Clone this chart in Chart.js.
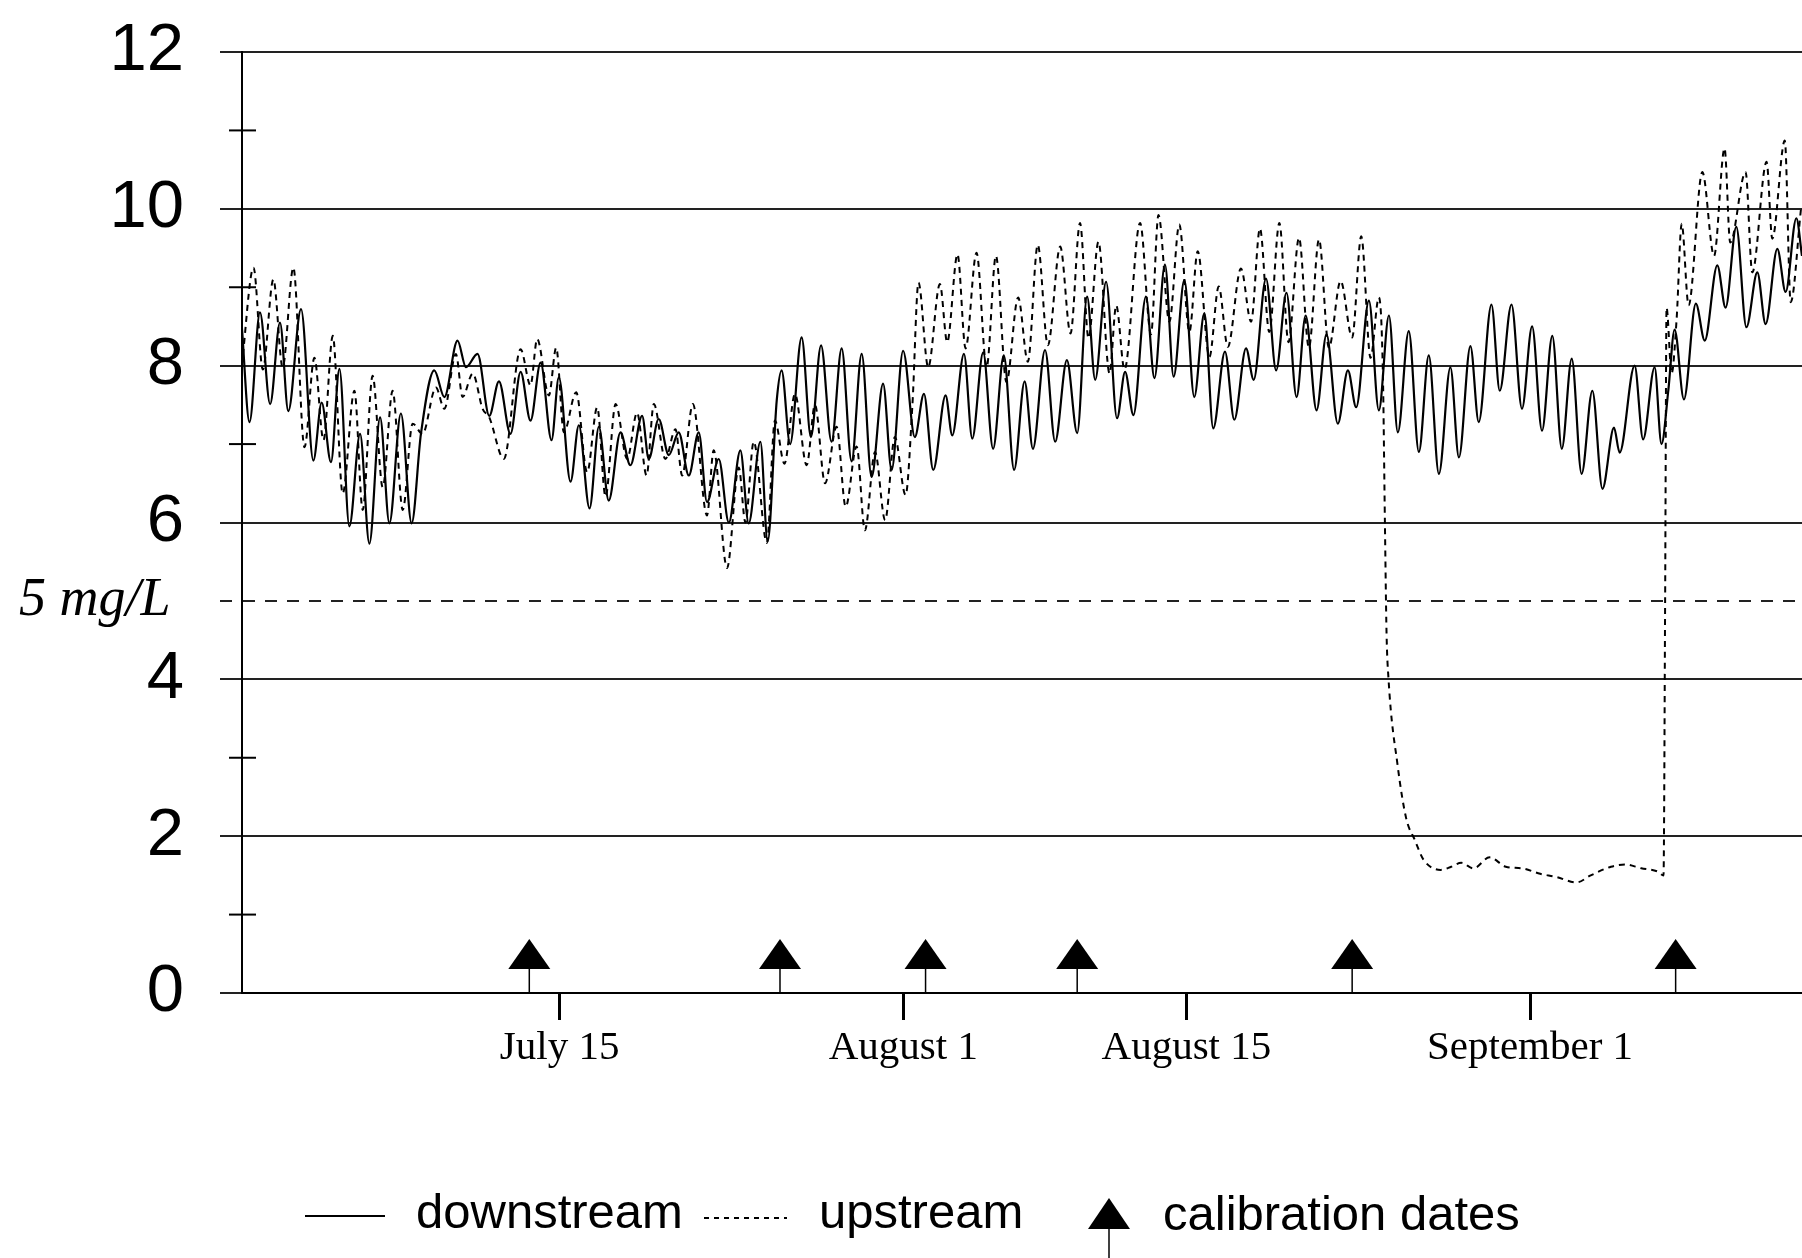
<!DOCTYPE html>
<html>
<head>
<meta charset="utf-8">
<title>Dissolved oxygen, upstream and downstream</title>
<script src="https://cdn.jsdelivr.net/npm/chart.js@4.4.1/dist/chart.umd.min.js"></script>
<style>
  html, body { margin: 0; padding: 0; background: #fff; }
  #wrap { position: relative; width: 1802px; height: 1258px; }
</style>
</head>
<body>
<div id="wrap"><canvas id="doChart"></canvas></div>
<script>
// x values are days counted from July 1 (July 1 = 0)
const xMin = -1.71;
const xMax = 75.45;
const xTickDays = [14, 31, 45, 62];
const xTickLabels = ['July 15', 'August 1', 'August 15', 'September 1'];
const yTickValues = [0, 2, 4, 5, 6, 8, 10, 12];
const minorTickValues = [1, 3, 7, 9, 11];
const thresholdValue = 5;
const calibrationDays = [12.5, 24.9, 32.1, 39.6, 53.2, 69.2];

// downstream DO (mg/L), read at the daily peaks and troughs
const downDays = [
  -1.72, -1.34, -0.82, -0.32, 0.17, 0.58, 1.21, 1.82, 2.23, 2.69, 3.11, 3.60, 4.13, 4.59, 5.12, 5.58,
  6.15, 6.68, 7.14, 7.80, 8.30, 8.95, 9.37, 9.94, 10.52, 11.00, 11.57, 12.07, 12.56, 13.06, 13.60, 13.96,
  14.54, 14.95, 15.48, 15.94, 16.43, 17.01, 17.50, 18.08, 18.41, 18.90, 19.40, 19.89, 20.39, 20.88, 21.29,
  21.87, 22.37, 22.94, 23.35, 23.93, 24.29, 24.74, 24.98, 25.40, 25.97, 26.43, 26.93, 27.45, 27.95, 28.44,
  28.94, 29.43, 30.00, 30.42, 30.99, 31.57, 32.02, 32.48, 33.09, 33.42, 34.00, 34.41, 34.95, 35.44, 35.97,
  36.48, 37.00, 37.41, 38.01, 38.51, 39.09, 39.60, 40.09, 40.49, 41.03, 41.57, 41.97, 42.38, 43.00, 43.42,
  43.94, 44.37, 44.90, 45.39, 45.89, 46.33, 46.91, 47.37, 47.95, 48.33, 48.94, 49.44, 49.95, 50.45, 50.90,
  51.44, 51.93, 52.49, 52.99, 53.40, 54.03, 54.52, 55.02, 55.46, 56.00, 56.50, 56.99, 57.49, 58.06, 58.48,
  59.05, 59.46, 60.09, 60.50, 61.08, 61.60, 62.10, 62.59, 63.10, 63.57, 64.06, 64.55, 65.08, 65.58, 66.15,
  66.43, 67.17, 67.59, 68.16, 68.50, 68.84, 69.15, 69.61, 70.20, 70.64, 71.26, 71.67, 72.20, 72.70, 73.24,
  73.65, 74.23, 74.64, 75.17, 75.45
];
const downDO = [
  8.50, 7.28, 8.68, 7.51, 8.55, 7.42, 8.72, 6.79, 7.53, 6.77, 7.96, 5.95, 7.13, 5.73, 7.34, 5.99,
  7.39, 5.99, 7.13, 7.94, 7.60, 8.32, 7.98, 8.15, 7.36, 7.80, 7.13, 7.92, 7.30, 8.04, 7.05, 7.85,
  6.52, 7.24, 6.18, 7.22, 6.28, 7.15, 6.73, 7.36, 6.81, 7.32, 6.86, 7.15, 6.60, 7.15, 6.26,
  6.81, 6.00, 6.92, 5.99, 7.03, 5.76, 7.56, 7.94, 7.00, 8.36, 7.09, 8.26, 7.03, 8.22, 6.78,
  8.15, 6.58, 7.77, 6.67, 8.19, 7.09, 7.64, 6.67, 7.62, 7.11, 8.15, 7.07, 8.17, 6.94, 8.13,
  6.67, 7.80, 6.94, 8.20, 7.03, 8.07, 7.14, 8.88, 7.82, 9.07, 7.33, 7.92, 7.37, 8.88, 7.84,
  9.29, 7.86, 9.09, 7.60, 8.67, 7.20, 8.18, 7.31, 8.22, 7.82, 9.11, 7.94, 8.93, 7.60, 8.64,
  7.43, 8.40, 7.26, 7.94, 7.47, 8.83, 7.43, 8.64, 7.15, 8.44, 6.90, 8.13, 6.62, 7.98, 6.83,
  8.25, 7.28, 8.78, 7.68, 8.78, 7.45, 8.50, 7.17, 8.38, 6.94, 8.09, 6.62, 7.68, 6.43, 7.21,
  6.89, 8.00, 7.06, 7.98, 7.00, 7.69, 8.46, 7.57, 8.79, 8.32, 9.28, 8.74, 9.77, 8.49, 9.19,
  8.53, 9.49, 8.94, 9.88, 9.40
];

// upstream DO (mg/L)
const upDays = [
  -1.72, -1.14, -0.68, -0.16, 0.30, 0.83, 1.38, 1.87, 2.32, 2.78, 3.27, 3.85, 4.26, 4.75, 5.25, 5.74,
  6.24, 6.73, 7.22, 7.88, 8.30, 8.87, 9.20, 9.70, 10.19, 10.52, 11.24, 12.07, 12.56, 12.89, 13.47, 13.83,
  14.21, 14.82, 15.36, 15.86, 16.27, 16.77, 17.34, 17.83, 18.30, 18.66, 19.23, 19.73, 20.06, 20.59, 21.29,
  21.62, 22.28, 22.86, 23.19, 23.60, 24.25, 24.65, 25.12, 25.64, 26.22, 26.63, 27.13, 27.70, 28.15, 28.69,
  29.10, 29.60, 30.10, 30.58, 31.11, 31.45, 31.75, 32.23, 32.81, 33.17, 33.68, 34.08, 34.62, 35.12, 35.58,
  36.10, 36.68, 37.16, 37.65, 38.15, 38.76, 39.27, 39.74, 40.16, 40.65, 41.20, 41.53, 41.94, 42.71, 43.25,
  43.62, 44.16, 44.65, 45.15, 45.56, 46.14, 46.60, 47.05, 47.70, 48.20, 48.64, 49.10, 49.60, 50.05, 50.57,
  51.06, 51.56, 52.05, 52.63, 53.20, 53.65, 54.11, 54.52, 54.72, 54.82, 54.90, 55.00, 55.45, 55.87, 56.30,
  56.73, 57.58, 58.10, 58.60, 59.20, 60.00, 60.80, 61.60, 62.50, 63.30, 64.30, 65.00, 66.00, 66.70, 67.50,
  68.30, 68.60, 68.68, 68.75, 69.00, 69.25, 69.50, 69.84, 70.52, 71.10, 71.62, 71.90, 72.66, 72.99, 73.70,
  73.98, 74.60, 74.89, 75.40
];
const upDO = [
  8.00, 9.25, 7.95, 9.10, 7.98, 9.25, 6.96, 8.10, 7.05, 8.38, 6.37, 7.68, 6.16, 7.87, 6.45, 7.68,
  6.16, 7.26, 7.13, 7.72, 7.45, 8.15, 7.60, 7.90, 7.45, 7.34, 6.81, 8.21, 7.75, 8.34, 7.62, 8.23,
  7.15, 7.66, 6.64, 7.47, 6.33, 7.51, 6.81, 7.40, 6.60, 7.51, 6.81, 7.19, 6.60, 7.51, 6.09,
  6.92, 5.42, 6.70, 6.00, 7.03, 5.74, 7.30, 6.75, 7.64, 6.73, 7.50, 6.50, 7.22, 6.20, 6.97,
  5.90, 6.90, 6.03, 7.09, 6.35, 7.50, 9.06, 7.98, 9.04, 8.30, 9.42, 8.22, 9.44, 7.98, 9.40,
  7.79, 8.87, 8.05, 9.54, 8.26, 9.52, 8.41, 9.82, 8.35, 9.58, 7.90, 8.77, 7.95, 9.82, 8.40,
  9.92, 8.56, 9.80, 8.43, 9.46, 8.11, 9.01, 8.24, 9.24, 8.56, 9.75, 8.43, 9.82, 8.30, 9.63,
  8.23, 9.61, 8.23, 9.08, 8.36, 9.65, 8.10, 8.87, 7.90, 6.00, 4.60, 4.00, 2.90, 2.23, 1.95,
  1.70, 1.57, 1.61, 1.66, 1.59, 1.73, 1.61, 1.59, 1.52, 1.48, 1.41, 1.50, 1.61, 1.64, 1.59,
  1.55, 1.50, 5.00, 8.74, 7.90, 8.60, 9.81, 8.77, 10.47, 9.40, 10.77, 9.57, 10.47, 9.19, 10.60,
  9.62, 10.87, 8.81, 10.00
];

function toPoints(days, vals) {
    return days.map((d, i) => ({ x: d, y: vals[i] }));
}

// 目盛り・校正日の矢印・凡例を描く
const extrasPlugin = {
    id: 'extras',
    afterDraw(chart) {
        const ctx = chart.ctx;
        const xs = chart.scales.x;
        const ys = chart.scales.y;
        const area = chart.chartArea;
        ctx.save();
        ctx.strokeStyle = '#000';
        ctx.fillStyle = '#000';

        // minor ticks on the y axis
        ctx.lineWidth = 2;
        minorTickValues.forEach(v => {
            const py = ys.getPixelForValue(v);
            ctx.beginPath();
            ctx.moveTo(area.left - 13, py);
            ctx.lineTo(area.left + 14, py);
            ctx.stroke();
        });

        // calibration date arrows
        const base = ys.getPixelForValue(0);
        calibrationDays.forEach(d => {
            const px = xs.getPixelForValue(d);
            ctx.beginPath();
            ctx.moveTo(px, base - 54);
            ctx.lineTo(px - 21, base - 24);
            ctx.lineTo(px + 21, base - 24);
            ctx.closePath();
            ctx.fill();
            ctx.lineWidth = 1.5;
            ctx.beginPath();
            ctx.moveTo(px, base - 25);
            ctx.lineTo(px, base);
            ctx.stroke();
        });

        // legend
        const ly = 1214;
        ctx.font = '49px "Liberation Sans", Arial, sans-serif';
        ctx.textBaseline = 'middle';
        ctx.textAlign = 'left';

        ctx.lineWidth = 2;
        ctx.setLineDash([]);
        ctx.beginPath();
        ctx.moveTo(305, ly + 2);
        ctx.lineTo(385, ly + 2);
        ctx.stroke();
        ctx.fillText('downstream', 416, ly);

        ctx.setLineDash([5, 5]);
        ctx.beginPath();
        ctx.moveTo(704, ly + 4);
        ctx.lineTo(787, ly + 4);
        ctx.stroke();
        ctx.setLineDash([]);
        ctx.fillText('upstream', 819, ly);

        ctx.beginPath();
        ctx.moveTo(1109, 1198);
        ctx.lineTo(1088, 1229);
        ctx.lineTo(1130, 1229);
        ctx.closePath();
        ctx.fill();
        ctx.lineWidth = 1.5;
        ctx.beginPath();
        ctx.moveTo(1109, 1228);
        ctx.lineTo(1109, 1258);
        ctx.stroke();
        ctx.fillText('calibration dates', 1163, ly + 2);

        ctx.restore();
    }
};

Chart.defaults.font.family = '"Liberation Sans", Arial, sans-serif';
Chart.defaults.color = '#000';

const isThreshold = c => c.tick && c.tick.value === thresholdValue;

new Chart(document.getElementById('doChart'), {
    type: 'line',
    data: {
        datasets: [
            {
                label: 'downstream',
                data: toPoints(downDays, downDO),
                borderColor: '#000',
                borderWidth: 2.2,
                pointRadius: 0,
                cubicInterpolationMode: 'monotone',
                fill: false
            },
            {
                label: 'upstream',
                data: toPoints(upDays, upDO),
                borderColor: '#000',
                borderWidth: 2,
                borderDash: [6, 5],
                pointRadius: 0,
                cubicInterpolationMode: 'monotone',
                fill: false
            }
        ]
    },
    options: {
        responsive: true,
        maintainAspectRatio: false,
        animation: false,
        layout: { autoPadding: false, padding: { top: 52, right: 0, left: 0, bottom: 0 } },
        plugins: {
            legend: { display: false },
            tooltip: { enabled: false }
        },
        scales: {
            x: {
                type: 'linear',
                min: xMin,
                max: xMax,
                afterBuildTicks: s => { s.ticks = xTickDays.map(v => ({ value: v })); },
                afterFit: s => { s.height = 265; s.paddingLeft = 0; s.paddingRight = 0; },
                grid: {
                    drawOnChartArea: false,
                    drawTicks: true,
                    tickLength: 27,
                    tickWidth: 3,
                    tickColor: '#000'
                },
                border: { display: true, color: '#000', width: 2 },
                ticks: {
                    autoSkip: false,
                    maxRotation: 0,
                    padding: 4,
                    color: '#000',
                    font: { family: '"Liberation Serif", "Times New Roman", serif', size: 41 },
                    callback: (v, i) => xTickLabels[i]
                }
            },
            y: {
                min: 0,
                max: 12,
                afterBuildTicks: s => { s.ticks = yTickValues.map(v => ({ value: v })); },
                afterFit: s => { s.width = 242; s.paddingTop = 0; s.paddingBottom = 0; },
                grid: {
                    color: '#222',
                    lineWidth: 2,
                    drawTicks: true,
                    tickLength: 22,
                    tickColor: '#222',
                    tickBorderDash: c => isThreshold(c) ? [12, 10] : []
                },
                border: {
                    display: true,
                    color: '#000',
                    width: 2,
                    dash: c => isThreshold(c) ? [12, 10] : []
                },
                ticks: {
                    padding: 36,
                    color: '#000',
                    font: c => isThreshold(c)
                        ? { family: '"Liberation Serif", "Times New Roman", serif', style: 'italic', size: 54 }
                        : { family: '"Liberation Sans", Arial, sans-serif', size: 67 },
                    callback: v => v === thresholdValue ? '5 mg/L ' : String(v)
                }
            }
        }
    },
    plugins: [extrasPlugin]
});
</script>
</body>
</html>
